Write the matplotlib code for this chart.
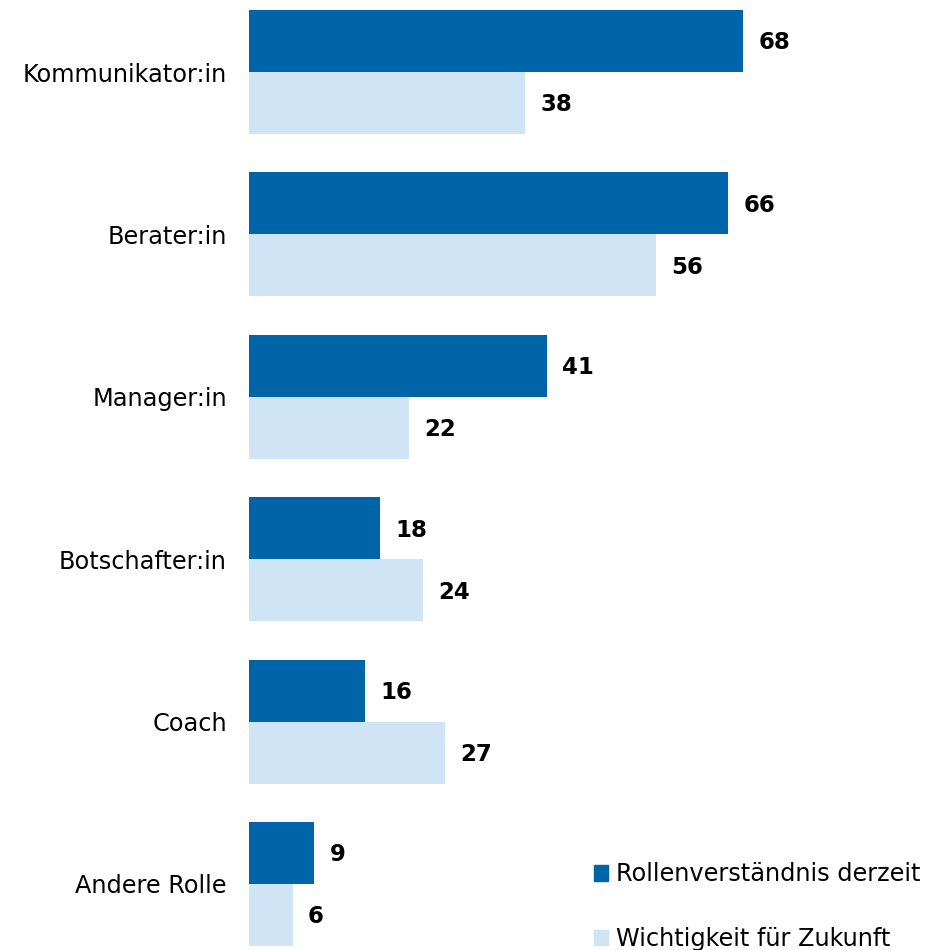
import numpy as np
import matplotlib.pyplot as plt
from matplotlib.patches import Patch

# Survey results (percent)
roles = ["Kommunikator:in", "Berater:in", "Manager:in", "Botschafter:in", "Coach", "Andere Rolle"]
current = [68, 66, 41, 18, 16, 9]
future = [38, 56, 22, 24, 27, 6]
series_names = ["Rollenverständnis derzeit", "Wichtigkeit für Zukunft"]

dark_blue = "#0065a8"
light_blue = "#cfe4f4"
font = "DejaVu Sans"

fig = plt.figure(figsize=(9.25, 9.5), dpi=100)
ax = fig.add_axes([249 / 925, 4 / 950, 676 / 925, 936 / 950])

y = np.arange(len(roles))
h = 0.382

ax.barh(y - h / 2, current, height=h, color=dark_blue)
ax.barh(y + h / 2, future, height=h, color=light_blue)

for yi, c, f in zip(y, current, future):
    ax.text(c + 2.1, yi - h / 2 + 0.012, str(c), va="center", ha="left",
            fontsize=16.5, fontweight="bold", family=font, color="black")
    ax.text(f + 2.1, yi + h / 2 + 0.012, str(f), va="center", ha="left",
            fontsize=16.5, fontweight="bold", family=font, color="black")

ax.set_xlim(0, 676 / 7.265)
ax.set_ylim(len(roles) - 1 + h, -h)
ax.set_yticks(y)
ax.set_yticklabels(roles, fontsize=17.3, family=font)
ax.tick_params(axis="y", length=0, pad=16)
ax.set_xticks([])
for s in ax.spines.values():
    s.set_visible(False)

handles = [Patch(color=dark_blue), Patch(color=light_blue)]
leg = ax.legend(handles, series_names, loc="lower right", bbox_to_anchor=(1.007, -0.0152),
                frameon=False, handlelength=0.6, handleheight=0.6,
                handletextpad=0.3, labelspacing=1.67, borderaxespad=0,
                prop={"family": font, "size": 17.3})

fig.savefig("out.png", dpi=100)
